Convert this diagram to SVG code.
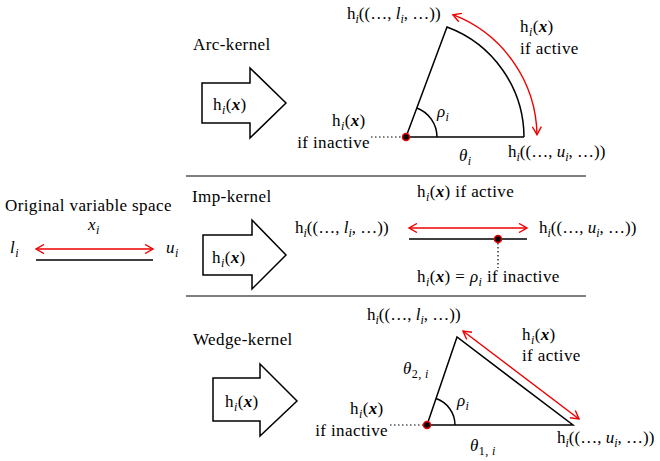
<svg xmlns="http://www.w3.org/2000/svg" width="660" height="461" viewBox="0 0 660 461" font-family="Liberation Serif, serif" font-size="17" letter-spacing="0.4">
<style>
.it{font-style:italic}
.bi{font-style:italic;font-weight:bold}
.s{font-size:12px}
.hl{letter-spacing:0}
.blk{fill:none;stroke:#000;stroke-width:1.5}
.red{fill:none;stroke:#e00;stroke-width:1.4}
.sep{stroke:#000;stroke-width:1}
.dot{fill:#000;stroke:#e00;stroke-width:1.5}
.dots{stroke:#000;stroke-width:1.2;stroke-dasharray:1.5 2.5}
.barrow{fill:#fff;stroke:#000;stroke-width:1.5;stroke-linejoin:miter}
</style>
<defs>
<marker id="ah" viewBox="0 0 10 10" refX="9" refY="5" markerWidth="10" markerHeight="10" markerUnits="userSpaceOnUse" orient="auto-start-reverse">
<path d="M1,0.5 L9,5 L1,9.5" fill="none" stroke="#e00" stroke-width="1.4"/>
</marker>
</defs>

<g id="separators">
<line class="sep" x1="186" y1="176" x2="586" y2="176"/>
<line class="sep" x1="186" y1="296" x2="586" y2="296"/>
</g>

<g id="original">
<text x="5" y="211">Original variable space</text>
<text x="88" y="230"><tspan class="it">x</tspan><tspan class="s it" dy="3.5">i</tspan></text>
<text x="10" y="253"><tspan class="it">l</tspan><tspan class="s it" dy="3.5">i</tspan></text>
<text x="166" y="253"><tspan class="it">u</tspan><tspan class="s it" dy="3.5">i</tspan></text>
<line class="red" x1="36" y1="249" x2="153" y2="249" marker-start="url(#ah)" marker-end="url(#ah)"/>
<line class="blk" x1="36" y1="260" x2="153" y2="260"/>
</g>

<g id="arc-kernel">
<text x="193" y="50">Arc-kernel</text>
<polygon class="barrow" points="202,83 250,83 250,68 286,103 250,138 250,123 202,123"/>
<text x="213" y="110">h<tspan class="s it" dy="3.5">i</tspan><tspan dy="-3.5">(</tspan><tspan class="bi">x</tspan>)</text>
<path class="blk" d="M524,137 L406,137 L447,27 A118,118 0 0 1 524,137"/>
<path class="blk" d="M437,137 A31,31 0 0 0 416.8,108"/>
<path class="red" d="M452.9,14.7 A131,131 0 0 1 537,134.7" marker-start="url(#ah)" marker-end="url(#ah)"/>
<line class="dots" x1="371" y1="137" x2="402" y2="137"/>
<circle class="dot" cx="406" cy="137" r="3.5"/>
<text class="hl" x="347" y="19">h<tspan class="s it" dy="3.5">i</tspan><tspan dy="-3.5">((…, </tspan><tspan class="it">l</tspan><tspan class="s it" dy="3.5">i</tspan><tspan dy="-3.5">, …))</tspan></text>
<text x="520" y="32">h<tspan class="s it" dy="3.5">i</tspan><tspan dy="-3.5">(</tspan><tspan class="bi">x</tspan>)</text>
<text x="520" y="54">if active</text>
<text x="332" y="126">h<tspan class="s it" dy="3.5">i</tspan><tspan dy="-3.5">(</tspan><tspan class="bi">x</tspan>)</text>
<text x="370" y="148" text-anchor="end">if inactive</text>
<text x="437" y="117"><tspan class="it">ρ</tspan><tspan class="s it" dy="3.5">i</tspan></text>
<text x="459" y="161"><tspan class="it">θ</tspan><tspan class="s it" dy="3.5">i</tspan></text>
<text class="hl" x="508" y="157">h<tspan class="s it" dy="3.5">i</tspan><tspan dy="-3.5">((…, </tspan><tspan class="it">u</tspan><tspan class="s it" dy="3.5">i</tspan><tspan dy="-3.5">, …))</tspan></text>
</g>

<g id="imp-kernel">
<text x="192" y="202">Imp-kernel</text>
<polygon class="barrow" points="203,235 252,235 252,220 286,255 252,289 252,275 203,275"/>
<text x="212" y="263">h<tspan class="s it" dy="3.5">i</tspan><tspan dy="-3.5">(</tspan><tspan class="bi">x</tspan>)</text>
<text class="hl" x="295" y="233">h<tspan class="s it" dy="3.5">i</tspan><tspan dy="-3.5">((…, </tspan><tspan class="it">l</tspan><tspan class="s it" dy="3.5">i</tspan><tspan dy="-3.5">, …))</tspan></text>
<text x="417" y="197">h<tspan class="s it" dy="3.5">i</tspan><tspan dy="-3.5">(</tspan><tspan class="bi">x</tspan>) if active</text>
<line class="red" x1="409" y1="228" x2="527" y2="228" marker-start="url(#ah)" marker-end="url(#ah)"/>
<line class="blk" x1="409" y1="239" x2="527" y2="239"/>
<line class="dots" x1="498" y1="243" x2="498" y2="268"/>
<circle class="dot" cx="498" cy="239" r="3.5"/>
<text class="hl" x="539" y="233">h<tspan class="s it" dy="3.5">i</tspan><tspan dy="-3.5">((…, </tspan><tspan class="it">u</tspan><tspan class="s it" dy="3.5">i</tspan><tspan dy="-3.5">, …))</tspan></text>
<text x="417" y="282">h<tspan class="s it" dy="3.5">i</tspan><tspan dy="-3.5">(</tspan><tspan class="bi">x</tspan>) = <tspan class="it">ρ</tspan><tspan class="s it" dy="3.5">i</tspan><tspan dy="-3.5"> if inactive</tspan></text>
</g>

<g id="wedge-kernel">
<text x="193" y="345">Wedge-kernel</text>
<polygon class="barrow" points="213,378 260,378 260,364 297,401 260,436 260,421 213,421"/>
<text x="225" y="407">h<tspan class="s it" dy="3.5">i</tspan><tspan dy="-3.5">(</tspan><tspan class="bi">x</tspan>)</text>
<path class="blk" d="M573,425 L427,425 L457,337 Z"/>
<path class="blk" d="M455,425 A28,28 0 0 0 436,398.5"/>
<line class="red" x1="463" y1="331" x2="579" y2="419" marker-start="url(#ah)" marker-end="url(#ah)"/>
<line class="dots" x1="390" y1="425" x2="423" y2="425"/>
<circle class="dot" cx="427" cy="425" r="3.5"/>
<text class="hl" x="367" y="320">h<tspan class="s it" dy="3.5">i</tspan><tspan dy="-3.5">((…, </tspan><tspan class="it">l</tspan><tspan class="s it" dy="3.5">i</tspan><tspan dy="-3.5">, …))</tspan></text>
<text x="522" y="340">h<tspan class="s it" dy="3.5">i</tspan><tspan dy="-3.5">(</tspan><tspan class="bi">x</tspan>)</text>
<text x="522" y="361">if active</text>
<text x="403" y="374"><tspan class="it">θ</tspan><tspan class="s" dy="3.5">2, <tspan class="it">i</tspan></tspan></text>
<text x="457" y="406"><tspan class="it">ρ</tspan><tspan class="s it" dy="3.5">i</tspan></text>
<text x="350" y="414">h<tspan class="s it" dy="3.5">i</tspan><tspan dy="-3.5">(</tspan><tspan class="bi">x</tspan>)</text>
<text x="388" y="436" text-anchor="end">if inactive</text>
<text x="470" y="451"><tspan class="it">θ</tspan><tspan class="s" dy="3.5">1, <tspan class="it">i</tspan></tspan></text>
<text class="hl" x="557" y="443">h<tspan class="s it" dy="3.5">i</tspan><tspan dy="-3.5">((…, </tspan><tspan class="it">u</tspan><tspan class="s it" dy="3.5">i</tspan><tspan dy="-3.5">, …))</tspan></text>
</g>
</svg>
